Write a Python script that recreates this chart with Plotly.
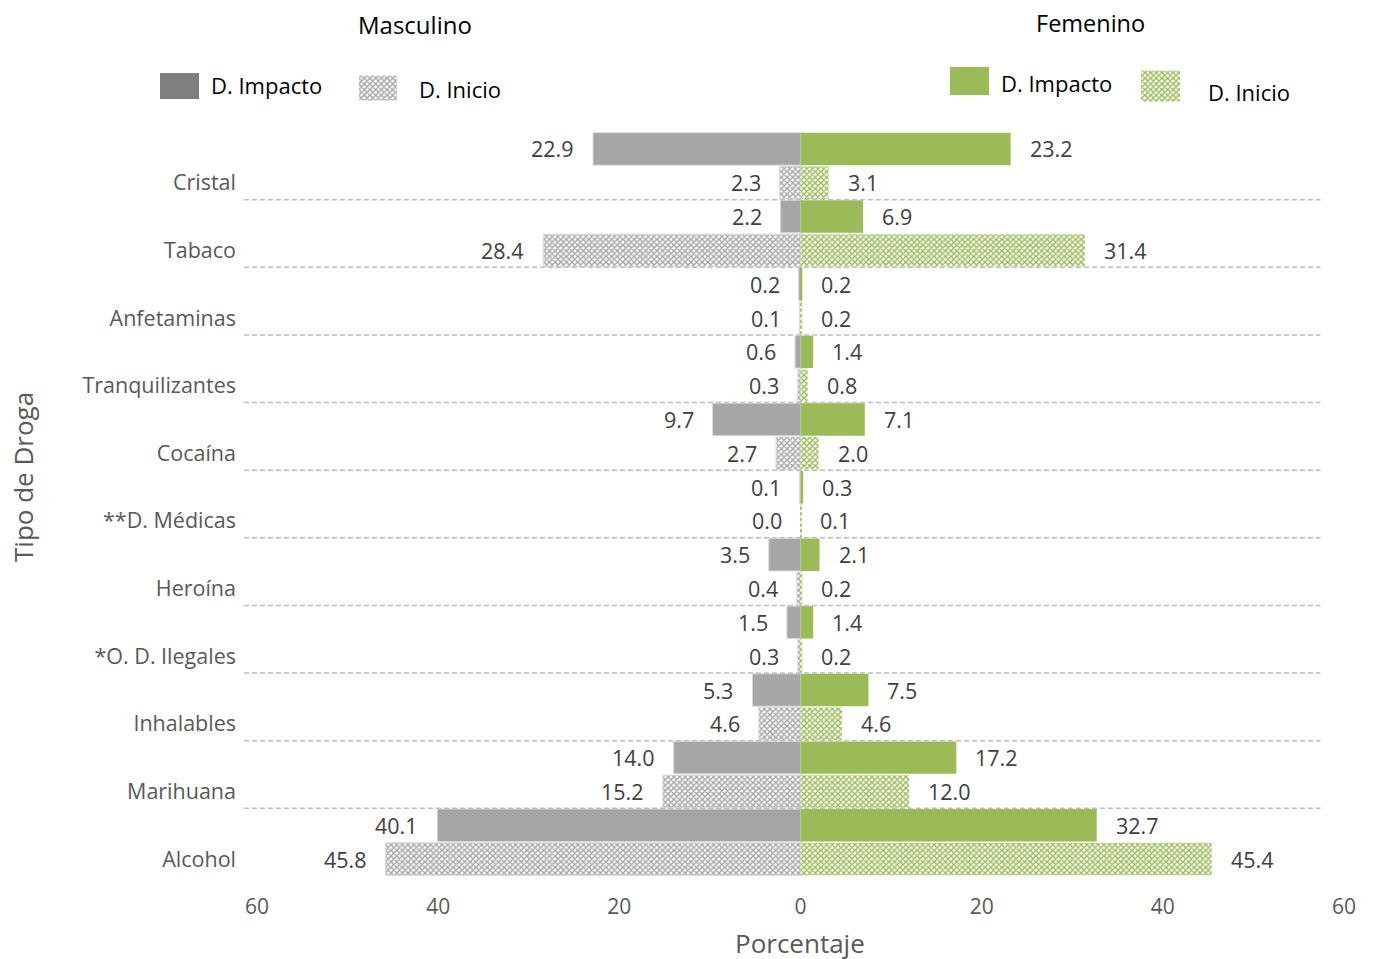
import plotly.graph_objects as go

# ---------------- data ----------------
categorias = ["Cristal", "Tabaco", "Anfetaminas", "Tranquilizantes", "Cocaína",
              "**D. Médicas", "Heroína", "*O. D. Ilegales", "Inhalables",
              "Marihuana", "Alcohol"]
masc_impacto = [22.9, 2.2, 0.2, 0.6, 9.7, 0.1, 3.5, 1.5, 5.3, 14.0, 40.1]
masc_inicio = [2.3, 28.4, 0.1, 0.3, 2.7, 0.0, 0.4, 0.3, 4.6, 15.2, 45.8]
fem_impacto = [23.2, 6.9, 0.2, 1.4, 7.1, 0.3, 2.1, 1.4, 7.5, 17.2, 32.7]
fem_inicio = [3.1, 31.4, 0.2, 0.8, 2.0, 0.1, 0.2, 0.2, 4.6, 12.0, 45.4]
x_tickvals = [-60, -40, -20, 0, 20, 40, 60]
x_ticktext = ["60", "40", "20", "0", "20", "40", "60"]
series_names = ["D. Impacto", "D. Inicio"]
panel_titles = ["Masculino", "Femenino"]

# ---------------- layout constants ----------------
W, H = 1374, 959
OFF = 8  # page body margin
FONT = "Open Sans"
GRAY = "#A6A6A6"
GREEN = "#9BBB59"
X60L, PR, PT, PB = 257, 1344, 132, 876   # pixel of -60, +60, plot top/bottom
PL = 244                                 # left edge of plot (dashed lines start here)
PX_PER_UNIT = (PR - X60L) / 120.0
X_LEFT = -60 - (X60L - PL) / PX_PER_UNIT


def px(x):
    return (x - OFF) / W


def py(y):
    return 1 - (y - OFF) / H


n = len(categorias)
pos_inicio = [2 * (n - 1 - i) for i in range(n)]
pos_impacto = [p + 1 for p in pos_inicio]

fig = go.Figure()

bw = 0.96
pat_kw = dict(shape="x", size=4, solidity=0.6, fillmode="replace")

fig.add_trace(go.Bar(y=pos_impacto, x=[-v for v in masc_impacto], orientation="h",
                     width=bw, marker=dict(color=GRAY, line=dict(color="#D9D9D9", width=1)),
                     hoverinfo="skip", showlegend=False))
fig.add_trace(go.Bar(y=pos_inicio, x=[-v for v in masc_inicio], orientation="h",
                     width=bw, marker=dict(color="white", line=dict(color="#D9D9D9", width=1),
                                           pattern=dict(fgcolor=GRAY, bgcolor="white", **pat_kw)),
                     hoverinfo="skip", showlegend=False))
fig.add_trace(go.Bar(y=pos_impacto, x=fem_impacto, orientation="h",
                     width=bw, marker=dict(color=GREEN, line=dict(width=0)),
                     hoverinfo="skip", showlegend=False))
fig.add_trace(go.Bar(y=pos_inicio, x=fem_inicio, orientation="h",
                     width=bw, marker=dict(color="white", line=dict(width=0),
                                           pattern=dict(fgcolor=GREEN, bgcolor="white", **pat_kw)),
                     hoverinfo="skip", showlegend=False))

annotations = []
lab_font = dict(family=FONT, size=21.5, color="#404040")
for vals, ys, sign in [(masc_impacto, pos_impacto, -1), (masc_inicio, pos_inicio, -1),
                       (fem_impacto, pos_impacto, 1), (fem_inicio, pos_inicio, 1)]:
    for v, yv in zip(vals, ys):
        annotations.append(dict(x=sign * v, y=yv, xref="x", yref="y", text=f"{v:.1f}",
                                showarrow=False, font=lab_font,
                                xanchor="left" if sign > 0 else "right",
                                xshift=17 * sign, yanchor="middle"))

# dashed separators between categories
shapes = []
for p in pos_inicio[:-1]:
    shapes.append(dict(type="line", xref="x", yref="y", x0=X_LEFT, x1=57.4,
                       y0=p - 0.5, y1=p - 0.5,
                       line=dict(color="#BFBFBF", width=1.5, dash="5px,3px"), layer="above"))

# ---------------- custom legend (drawn on pixel-mapped helper axis) ----------------
leg_x0 = [160, 359, 950, 1141]
leg_w = [39, 38, 39, 39]
leg_yc = [86, 88, 81, 86]
leg_h = [26, 25, 28, 31]
leg_txt_x = [209, 417, 999, 1206]
leg_txt_y = [85, 89, 83, 92]
leg_fill = ["#7F7F7F", "white", GREEN, "white"]
leg_pat = [None, GRAY, None, GREEN]
for k in range(4):
    mk = dict(color=leg_fill[k], line=dict(width=0))
    if leg_pat[k]:
        mk["pattern"] = dict(fgcolor=leg_pat[k], bgcolor="white", **pat_kw)
    fig.add_trace(go.Bar(x=[leg_w[k]], base=[leg_x0[k] - OFF], y=[leg_yc[k] - OFF],
                         width=leg_h[k], orientation="h", marker=mk, xaxis="x2", yaxis="y2",
                         hoverinfo="skip", showlegend=False))
    annotations.append(dict(x=px(leg_txt_x[k]), y=py(leg_txt_y[k]), xref="paper", yref="paper",
                            text=series_names[k % 2], showarrow=False, xanchor="left",
                            yanchor="middle", font=dict(family=FONT, size=22, color="#000000")))

# titles
annotations.append(dict(x=px(415), y=py(25), xref="paper", yref="paper", text=panel_titles[0],
                        showarrow=False, xanchor="center", yanchor="middle",
                        font=dict(family=FONT, size=24, color="#000000")))
annotations.append(dict(x=px(1090), y=py(23), xref="paper", yref="paper", text=panel_titles[1],
                        showarrow=False, xanchor="center", yanchor="middle",
                        font=dict(family=FONT, size=23.5, color="#000000")))
annotations.append(dict(x=px(800), y=py(943), xref="paper", yref="paper", text="Porcentaje",
                        showarrow=False, xanchor="center", yanchor="middle",
                        font=dict(family=FONT, size=26, color="#595959")))
annotations.append(dict(x=px(23), y=py(477), xref="paper", yref="paper", text="Tipo de Droga",
                        showarrow=False, textangle=-90, xanchor="center", yanchor="middle",
                        font=dict(family=FONT, size=26, color="#595959")))

fig.update_layout(
    width=W, height=H, template="none",
    margin=dict(l=0, r=0, t=0, b=0, pad=0),
    paper_bgcolor="white", plot_bgcolor="rgba(0,0,0,0)",
    barmode="overlay", showlegend=False,
    font=dict(family=FONT, color="#595959"),
    xaxis=dict(domain=[px(PL), px(PR)], range=[X_LEFT, 60], tickvals=x_tickvals,
               ticktext=x_ticktext, showgrid=False, zeroline=True, zerolinecolor="#D9D9D9",
               zerolinewidth=1.5, showline=False, ticks="", ticklabelstandoff=16,
               tickfont=dict(family=FONT, size=21, color="#595959"), automargin=False,
               fixedrange=True),
    yaxis=dict(domain=[py(PB), py(PT)], range=[-0.5, 2 * n - 0.5], tickvals=pos_inicio,
               ticktext=categorias, showgrid=False, zeroline=False, showline=False, ticks="",
               ticklabelstandoff=7, tickfont=dict(family=FONT, size=21.5, color="#595959"),
               automargin=False, fixedrange=True),
    xaxis2=dict(domain=[0, 1], range=[0, W], visible=False, anchor="y2", fixedrange=True),
    yaxis2=dict(domain=[py(115), py(50)], range=[115 - OFF, 50 - OFF], visible=False,
                anchor="x2", fixedrange=True),
    annotations=annotations,
    shapes=shapes,
)

fig.write_html("out.html")
